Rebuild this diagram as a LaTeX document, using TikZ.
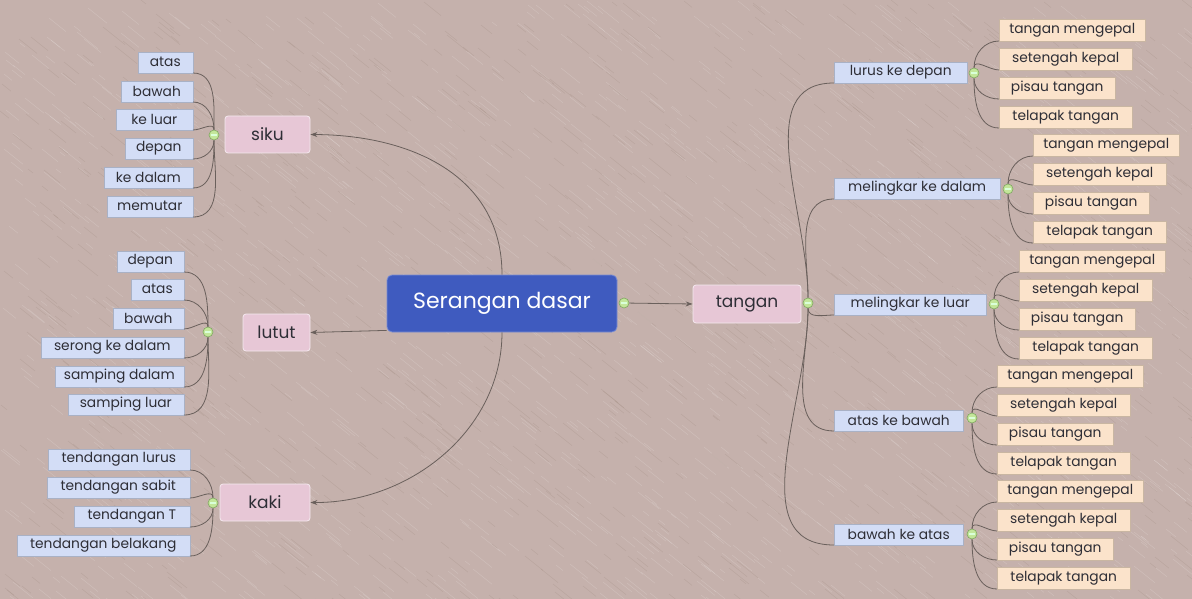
\documentclass[tikz,border=0pt]{standalone}
\usepackage{fontspec}
\setmainfont{Poppins}
\usetikzlibrary{arrows.meta}
\definecolor{bg}{HTML}{C5B1AC}
\definecolor{central}{HTML}{3F5BBF}
\definecolor{pinkb}{HTML}{E7C7D6}
\definecolor{blueb}{HTML}{D3DDF6}
\definecolor{peach}{HTML}{FBE3CB}
\definecolor{conncol}{HTML}{6A605C}
\definecolor{txt}{HTML}{2E2E36}
\definecolor{knobfill}{HTML}{C3E69A}
\definecolor{knobdraw}{HTML}{7FA860}
\newcommand\lch[5]{\node[leafL, minimum width=#4pt, anchor=south east] (#1) at (#2,#3) {#5};}
\newcommand\rch[5]{\node[leafR, minimum width=#4pt, anchor=south west] (#1) at (#2,#3) {#5};}
\newcommand\subb[5]{\node[subbox, minimum width=#4pt, anchor=south west] (#1) at (#2,#3) {#5};}
\begin{document}
\begin{tikzpicture}[x=1pt,y=-1pt,
 box/.style={inner sep=0pt, minimum height=21pt, font=\fontsize{13.8}{13.8}\selectfont, text=txt, draw=#1!80!black, fill=#1, line width=0.4pt},
 leafL/.style={box=blueb},
 leafR/.style={box=peach, minimum height=22pt},
 subbox/.style={box=blueb},
 branch/.style={rounded corners=3pt, fill=pinkb, draw=white!60!pinkb, line width=0.8pt, minimum height=37pt, inner sep=0pt, font=\fontsize{17}{17}\selectfont, text=txt},
 centre/.style={rounded corners=5pt, fill=central, draw=central!70!white, line width=0.8pt, text=white, minimum width=230pt, minimum height=57pt, inner sep=0pt, font=\fontsize{22}{22}\selectfont},
 conn/.style={draw=conncol, line width=0.8pt},
 arr/.style={conn, -{Stealth[length=7pt,width=5pt]}},
 knob/.style={circle, fill=knobfill, draw=knobdraw, line width=0.6pt, minimum size=10pt, inner sep=0pt,
   path picture={\draw[line width=2.4pt, black!55] ([xshift=2pt]path picture bounding box.west) -- ([xshift=-2pt]path picture bounding box.east);
                 \draw[line width=1.2pt, white!85!green] ([xshift=2.4pt]path picture bounding box.west) -- ([xshift=-2.4pt]path picture bounding box.east);}}
]
\useasboundingbox (0,0) rectangle (1192,599);
\fill[bg] (0,0) rectangle (1192,599);
\begin{scope}
\clip (0,0) rectangle (1192,599);
\pgfmathsetseed{7}
\foreach \i in {1,...,1600}{
 \pgfmathsetmacro\xx{random(0,1192)}
 \pgfmathsetmacro\yy{random(0,599)}
 \pgfmathsetmacro\ll{random(5,22)}
 \draw[white, opacity=0.2, line width=0.4pt] (\xx,\yy) -- ++(\ll,0.8*\ll);
}
\foreach \i in {1,...,900}{
 \pgfmathsetmacro\xx{random(0,1192)}
 \pgfmathsetmacro\yy{random(0,599)}
 \pgfmathsetmacro\ll{random(5,22)}
 \draw[black!60!brown, opacity=0.1, line width=0.4pt] (\xx,\yy) -- ++(\ll,0.8*\ll);
}
\end{scope}

% central and branches
\node[centre] (central) at (502,303.5) {Serangan dasar};
\node[knob] (ck) at (624,303) {};
\node[branch, minimum width=85pt] (siku) at (267.5,134.5) {siku};
\node[branch, minimum width=67pt] (lutut) at (276.5,332.5) {lutut};
\node[branch, minimum width=90pt] (kaki) at (265,502.5) {kaki};
\node[branch, minimum width=108pt, minimum height=38pt] (tangan) at (747,304) {tangan};
\node[knob] (tk) at (808,303) {};

\draw[arr] (central.north) .. controls (502,175) and (410,135) .. (siku.east);
\draw[arr] ([yshift=2pt]central.south west) -- (lutut.east);
\draw[arr] (central.south) .. controls (502,430) and (410,503) .. (kaki.east);
\draw[arr] (ck) -- (tangan.west);

% siku children
\lch{s1}{193}{73}{55}{atas}
\lch{s2}{193}{102}{72}{bawah}
\lch{s3}{193}{130}{77}{ke luar}
\lch{s4}{193}{159}{68}{depan}
\lch{s5}{193}{188}{89}{ke dalam}
\lch{s6}{193}{217}{86}{memutar}
\node[knob] (sk) at (214,135) {};
\foreach \n in {s1,s2,s3} \draw[conn] (sk) to[out=90,in=0] (\n.south east);
\foreach \n in {s4,s5,s6} \draw[conn] (sk) to[out=270,in=0] (\n.south east);

% lutut children
\lch{l1}{184}{272}{67}{depan}
\lch{l2}{184}{300}{53}{atas}
\lch{l3}{184}{329}{71}{bawah}
\lch{l4}{184}{358}{143}{serong ke dalam}
\lch{l5}{184}{387}{129}{samping dalam}
\lch{l6}{184}{415}{116}{samping luar}
\node[knob] (lk) at (208,332) {};
\foreach \n in {l1,l2,l3} \draw[conn] (lk) to[out=90,in=0] (\n.south east);
\foreach \n in {l4,l5,l6} \draw[conn] (lk) to[out=270,in=0] (\n.south east);

% kaki children
\lch{k1}{190}{470}{142}{tendangan lurus}
\lch{k2}{190}{498}{143}{tendangan sabit}
\lch{k3}{190}{527}{116}{tendangan T}
\lch{k4}{190}{556}{173}{tendangan belakang}
\node[knob] (kk) at (213,503) {};
\foreach \n in {k1,k2} \draw[conn] (kk) to[out=90,in=0] (\n.south east);
\foreach \n in {k3,k4} \draw[conn] (kk) to[out=270,in=0] (\n.south east);

% tangan sub-branches
\subb{t1}{834}{83}{133}{lurus ke depan}
\subb{t2}{834}{199}{166}{melingkar ke dalam}
\subb{t3}{834}{315}{152}{melingkar ke luar}
\subb{t4}{834}{431}{129}{atas ke bawah}
\subb{t5}{834}{545}{129}{bawah ke atas}
\foreach \n in {t1,t2} \draw[conn] (tk) to[out=90,in=180] (\n.south west);
\foreach \n in {t3,t4,t5} \draw[conn] (tk) to[out=270,in=180] (\n.south west);

\node[knob] (k1r) at (974,73) {};
\node[knob] (k2r) at (1008,189) {};
\node[knob] (k3r) at (994,304) {};
\node[knob] (k4r) at (972,418) {};
\node[knob] (k5r) at (972,534) {};

% leaves
\foreach \g/\x/\b in {1/999/41, 2/1033/156, 3/1019/272, 4/997/387, 5/997/502}{
 \pgfmathsetmacro\bb{\b+29}
 \pgfmathsetmacro\bc{\b+58}
 \pgfmathsetmacro\bd{\b+87}
 \rch{g\g a}{\x}{\b}{146}{tangan mengepal}
 \rch{g\g b}{\x}{\bb}{133}{setengah kepal}
 \rch{g\g c}{\x}{\bc}{116}{pisau tangan}
 \rch{g\g d}{\x}{\bd}{133}{telapak tangan}
 \draw[conn] (k\g r) to[out=90,in=180] (g\g a.south west);
 \draw[conn] (k\g r) to[out=90,in=180] (g\g b.south west);
 \draw[conn] (k\g r) to[out=270,in=180] (g\g c.south west);
 \draw[conn] (k\g r) to[out=270,in=180] (g\g d.south west);
}
\end{tikzpicture}
\end{document}
